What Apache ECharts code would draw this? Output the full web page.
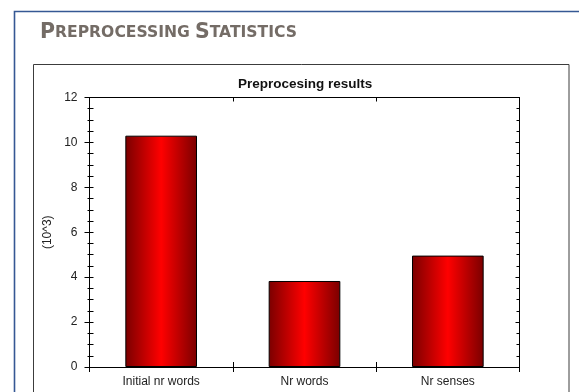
<!DOCTYPE html>
<html>
<head>
<meta charset="utf-8">
<script src="https://cdn.jsdelivr.net/npm/echarts@6/dist/echarts.min.js"></script>
<style>
  html, body { margin: 0; padding: 0; background: #ffffff; }
  #chart { width: 579px; height: 392px; }
</style>
</head>
<body>
<div id="chart"></div>
<script>
// Preprocessing statistics (values in thousands)
const categories = ['Initial nr words', 'Nr words', 'Nr senses'];
const values = [10.3, 3.83, 4.96];
const yMin = 0;
const yMax = 12;
const yStep = 2;

const chart = echarts.init(document.getElementById('chart'), null, { renderer: 'canvas' });

const labelFont = 'Liberation Sans, Arial, sans-serif';
const headFont = 'DejaVu Sans, sans-serif';
const axisColor = '#000000';

const barFill = new echarts.graphic.LinearGradient(0, 0, 1, 0, [
  { offset: 0, color: '#7a0000' },
  { offset: 0.5, color: '#ff0000' },
  { offset: 1, color: '#7a0000' }
]);

// value axis shared settings
function valueAxis(extra) {
  return Object.assign({
    type: 'value',
    min: yMin,
    max: yMax,
    interval: yStep,
    splitLine: { show: false },
    axisLabel: { show: false },
    axisLine: { show: false, onZero: false, lineStyle: { color: axisColor, width: 1 } },
    axisTick: { show: false },
    minorTick: { show: false },
    minorSplitLine: { show: false }
  }, extra);
}

function categoryAxis(extra) {
  return Object.assign({
    type: 'category',
    data: categories,
    boundaryGap: true,
    splitLine: { show: false },
    axisLabel: { show: false },
    axisLine: { show: false, onZero: false, lineStyle: { color: axisColor, width: 1 } },
    axisTick: { show: false }
  }, extra);
}

const lineOn = { show: true, onZero: false, lineStyle: { color: axisColor, width: 1 } };

const option = {
  animation: false,
  backgroundColor: '#ffffff',
  graphic: [
    {
      type: 'rect',
      shape: { x: 14.5, y: 11.5, width: 620, height: 420 },
      style: { fill: 'none', stroke: '#355894', lineWidth: 1.6 },
      silent: true
    },
    {
      type: 'rect',
      shape: { x: 33.5, y: 64.5, width: 535.5, height: 400 },
      style: { fill: 'none', stroke: '#3c3c3c', lineWidth: 1 },
      silent: true
    }
  ],
  title: [
    {
      text: '{a|P}{b|REPROCESSING} {a|S}{b|TATISTICS}',
      left: 35,
      top: 17,
      textStyle: {
        rich: {
          a: { fontFamily: headFont, fontSize: 20.5, color: '#746c66', fontWeight: 'bold' },
          b: { fontFamily: headFont, fontSize: 15.6, color: '#746c66', fontWeight: 'bold' }
        }
      }
    },
    {
      text: 'Preprocesing results',
      left: 233,
      top: 72,
      textStyle: { fontFamily: labelFont, fontSize: 13.5, fontWeight: 'bold', color: '#111111' }
    }
  ],
  grid: { left: 89.5, right: 59.5, top: 97.5, bottom: 25, containLabel: false },
  xAxis: [
    categoryAxis({
      position: 'bottom',
      axisLine: lineOn,
      axisTick: { show: true, inside: false, length: 5, lineStyle: { color: axisColor, width: 1 } },
      axisLabel: { show: true, margin: 9, fontFamily: labelFont, fontSize: 12, color: '#222222' }
    }),
    categoryAxis({
      position: 'bottom',
      axisTick: { show: true, inside: true, length: 5, lineStyle: { color: axisColor, width: 1 } }
    }),
    categoryAxis({
      position: 'top',
      axisLine: lineOn,
      axisTick: { show: true, inside: true, length: 4, lineStyle: { color: axisColor, width: 1 } }
    })
  ],
  yAxis: [
    valueAxis({
      position: 'left',
      name: '(10^3)',
      nameLocation: 'middle',
      nameGap: 30,
      nameRotate: 90,
      nameTextStyle: { fontFamily: labelFont, fontSize: 12, color: '#222222' },
      axisLine: lineOn,
      axisTick: { show: true, inside: false, length: 5, lineStyle: { color: axisColor, width: 1 } },
      minorTick: { show: true, splitNumber: 4, length: 2, lineStyle: { color: axisColor, width: 1 } },
      axisLabel: { show: true, margin: 12, fontFamily: labelFont, fontSize: 12, color: '#222222' }
    }),
    valueAxis({
      position: 'left',
      axisTick: { show: true, inside: true, length: 4, lineStyle: { color: axisColor, width: 1 } },
      minorTick: { show: true, splitNumber: 4, length: 4, lineStyle: { color: axisColor, width: 1 } }
    }),
    valueAxis({
      position: 'right',
      axisLine: lineOn,
      axisTick: { show: true, inside: true, length: 4, lineStyle: { color: axisColor, width: 1 } },
      minorTick: { show: true, splitNumber: 4, length: 3, lineStyle: { color: axisColor, width: 1 } }
    })
  ],
  series: [
    {
      type: 'bar',
      xAxisIndex: 0,
      yAxisIndex: 0,
      data: values,
      barWidth: '50%',
      itemStyle: { color: barFill, borderColor: '#000000', borderWidth: 1 },
      z: 1
    }
  ]
};

chart.setOption(option);
</script>
</body>
</html>
